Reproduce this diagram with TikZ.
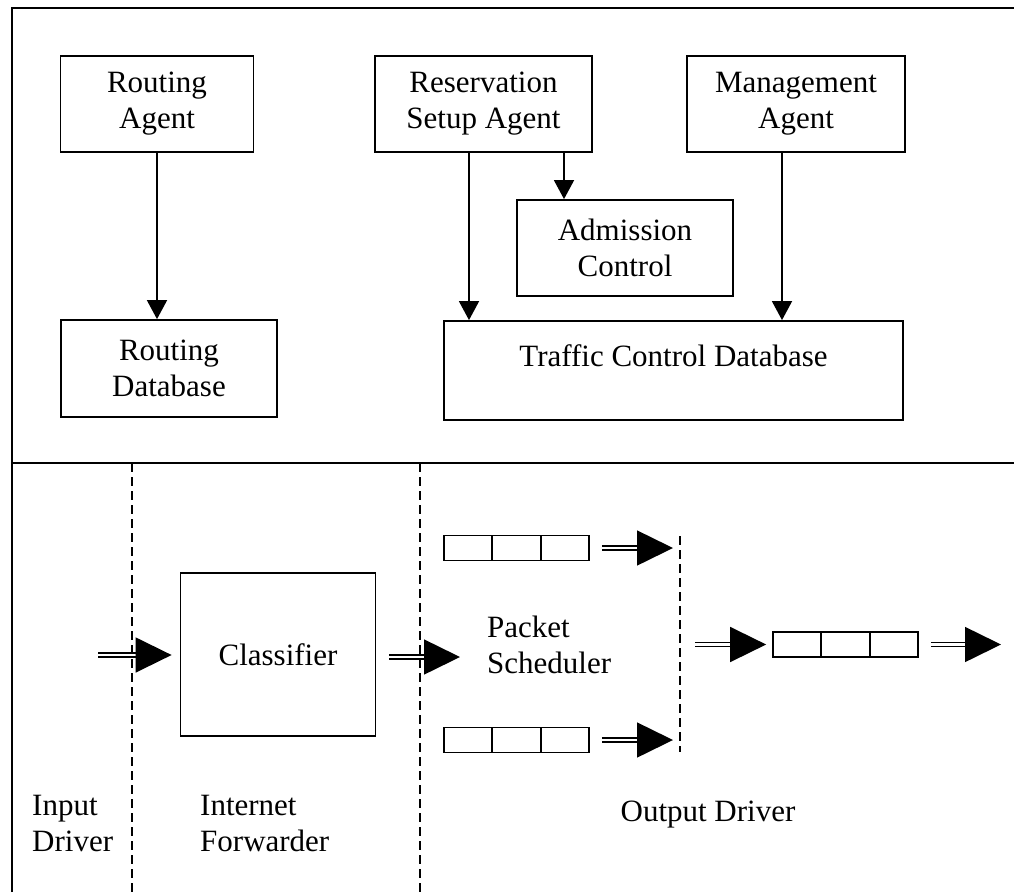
\documentclass[tikz,border=0pt]{standalone}
\usepackage{fontspec}
\setmainfont{Liberation Serif}
\usepackage{tikz}
\usetikzlibrary{arrows.meta, positioning}
\tikzstyle{sarrow}  = [line width=1.7pt, -{Triangle[length=19pt,width=20pt]}]
\tikzstyle{darrow}  = [line width=1.5pt, double, double distance=2.2pt, -{Triangle[length=36pt,width=35pt]}]
\tikzstyle{block}   = [rectangle, draw, line width=1.8pt, inner sep=0pt, align=center]
\tikzstyle{cell}    = [rectangle, draw, line width=1.8pt, minimum width=48.3pt, minimum height=25pt, inner sep=0pt]
\tikzstyle{divider} = [line width=1.6pt, dash pattern=on 9pt off 5pt]
\tikzstyle{frame}   = [line width=1.9pt]
\tikzset{every node/.style={font=\fontsize{31}{36}\selectfont}}

\begin{document}
\begin{tikzpicture}[x=1pt, y=-1pt]
  \useasboundingbox (0,0) rectangle (1014,892);

  % Frame and separation line
  \draw[frame] (12,892) -- (12,8) -- (1014,8);
  \draw[frame] (12,463) -- (1014,463);

  % Control plane
  \node[block, minimum width=193pt, minimum height=96pt] (ragent) at (157,104) {Routing\\Agent};
  \node[block, minimum width=216pt, minimum height=97pt] (rdb) at (169,368.5) {Routing\\Database};
  \node[block, minimum width=217pt, minimum height=96pt] (resv) at (483.5,104) {Reservation\\Setup Agent};
  \node[block, minimum width=218pt, minimum height=96pt] (mgmt) at (796,104) {Management\\Agent};
  \node[block, minimum width=216pt, minimum height=96pt] (adm) at (625,248) {Admission\\Control};
  \node[block, minimum width=459pt, minimum height=99pt,
        label={[anchor=north, inner sep=0pt, yshift=-24pt]north:Traffic Control Database}] (tcd) at (673.5,370.5) {};

  \draw[sarrow] (ragent.south) -- (ragent.south |- rdb.north);
  \draw[sarrow] ([xshift=-14.5pt]resv.south) -- ([xshift=-14.5pt]resv.south |- tcd.north);
  \draw[sarrow] ([xshift=80.5pt]resv.south) -- ([xshift=80.5pt]resv.south |- adm.north);
  \draw[sarrow] ([xshift=-14pt]mgmt.south) -- ([xshift=-14pt]mgmt.south |- tcd.north);

  % Data path: stage borders
  \draw[divider] (132,463) -- (132,892);
  \draw[divider] (420,463) -- (420,892);
  \draw[divider] (680,536) -- (680,752);

  \node[block, minimum width=195pt, minimum height=163pt] (cls) at (278,654.5) {Classifier};

  % queues (three cells each)
  \foreach \q/\x/\y in {qa/468.2/548, qb/468.2/740, qc/797.2/644.5}
      \foreach \i in {0,1,2}
          \node[cell] (\q\i) at (\x+\i*48.3,\y) {};

  \coordinate (inp)  at (98,655);
  \coordinate (fwd)  at (460,657);
  \coordinate (taqa) at (673,548);
  \coordinate (taqb) at (673,740);
  \coordinate (outs) at (695,644.5);
  \coordinate (oute) at (1001,644.5);

  \draw[darrow, shorten >=8pt] (inp) -- (inp -| cls.west);
  \draw[darrow, shorten <=13pt] (cls.east |- fwd) -- (fwd);
  \draw[darrow, shorten <=12pt] (qa2.east) -- (taqa);
  \draw[darrow, shorten <=12pt] (qb2.east) -- (taqb);
  \draw[darrow, shorten >=6pt] (outs) -- (qc0.west);
  \draw[darrow, shorten <=12pt] (qc2.east) -- (oute);

  % Stage names
  \node[anchor=west, align=left, inner sep=0pt] (psched) at (487,645) {Packet\\Scheduler};
  \node[anchor=west, align=left, inner sep=0pt] (indrv) at (32,823) {Input\\Driver};
  \node[anchor=west, align=left, inner sep=0pt] (ifwd) at (200,823) {Internet\\Forwarder};
  \node[inner sep=0pt] (outdrv) at (708,815) {Output Driver};
\end{tikzpicture}
\end{document}
